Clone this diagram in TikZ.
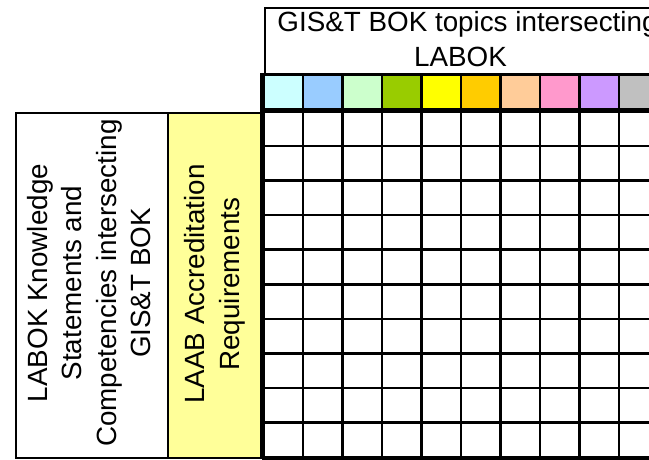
\documentclass[tikz,border=0pt]{standalone}
\usepackage{fontspec}
\setmainfont{Liberation Sans}
\definecolor{hdrA}{HTML}{CCFFFF}
\definecolor{hdrB}{HTML}{99CCFF}
\definecolor{hdrC}{HTML}{CCFFCC}
\definecolor{hdrD}{HTML}{99CC00}
\definecolor{hdrE}{HTML}{FFFF00}
\definecolor{hdrF}{HTML}{FFCC00}
\definecolor{hdrG}{HTML}{FFCC99}
\definecolor{hdrH}{HTML}{FF99CC}
\definecolor{hdrI}{HTML}{CC99FF}
\definecolor{hdrJ}{HTML}{C0C0C0}
\definecolor{paleyellow}{HTML}{FFFF99}
\begin{document}
\begin{tikzpicture}[x=1pt,y=-1pt,
  bigtext/.style={font=\fontsize{27.8}{34.5}\selectfont, align=center, inner sep=0pt},
  panel/.style={draw=black, line width=2pt, anchor=north west, inner sep=0pt},
  cell/.style={draw=black, line width=2.6pt, anchor=north west, inner sep=0pt,
    minimum width=39.5pt, minimum height=34.6pt},
  thickrule/.style={line width=4.5pt, black}]
\useasboundingbox (0,0) rectangle (649,459);
\clip (0,0) rectangle (649,459);
\fill[white] (0,0) rectangle (649,459);

% header box
\node[panel, minimum width=440pt, minimum height=66pt] (hdr) at (264,7) {};
\node[bigtext] (hdrtext) at (460.5,39) {\hspace*{14pt}GIS\&T BOK topics intersecting\\LABOK};

% left panels
\node[panel, fill=white, minimum width=152pt, minimum height=345pt] (labok) at (15,112) {};
\node[bigtext, rotate=90] (laboktext) at (89,283) {LABOK Knowledge\\Statements and\\Competencies intersecting\\GIS\&T BOK};
\node[panel, fill=paleyellow, minimum width=95pt, minimum height=345pt] (laab) at (167,112) {};
\node[bigtext, rotate=90] (laabtext) at (215,284) {LAAB Accreditation\\Requirements};

% colour row
\foreach \c [count=\i from 0] in {hdrA,hdrB,hdrC,hdrD,hdrE,hdrF,hdrG,hdrH,hdrI,hdrJ} {
  \node[cell, fill=\c, minimum height=37pt] (col\i) at ({262+39.5*\i},73) {};
}
% grid cells
\foreach \r in {0,...,9} {
  \foreach \i in {0,...,9} {
    \node[cell, fill=white] (c-\r-\i) at ({262+39.5*\i},{110+34.6*\r}) {};
  }
}
% thick rules
\draw[thickrule] (col0.north west) -- (c-9-0.south west);
\draw[thickrule] (c-0-0.north west) -- (c-0-9.north east);
\draw[thickrule] (c-9-0.south west) -- (c-9-9.south east);
\end{tikzpicture}
\end{document}
